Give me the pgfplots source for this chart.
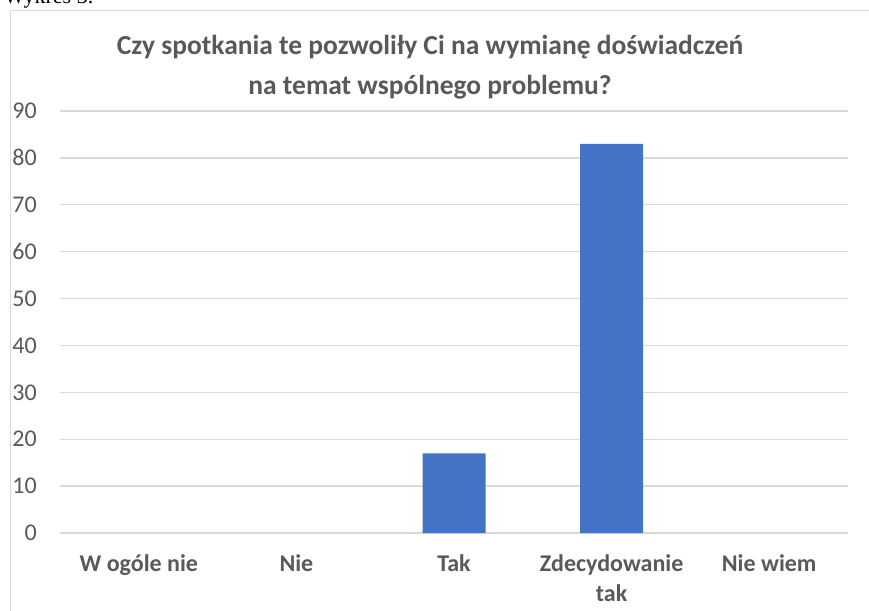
\documentclass[border=0pt]{standalone}
\usepackage{pgfplots}
\pgfplotsset{compat=1.18}
\usepackage{fontspec}
\setmainfont{Carlito}
\newfontfamily\serifw{Liberation Serif}
\definecolor{txt}{HTML}{595959}
\definecolor{gridc}{HTML}{D9D9D9}
\definecolor{barc}{HTML}{4472C4}
\begin{document}
\begin{tikzpicture}[x=1pt,y=1pt]
\useasboundingbox (0,0) rectangle (869,610);
\draw[gridc, line width=1.3pt] (10.5,-5) -- (10.5,599.5) -- (880,599.5);
\node[anchor=base west, inner sep=0pt, font=\serifw\fontsize{22}{26}\selectfont] at (4,606) {Wykres 3.};
\node[align=center, text=txt, inner sep=0pt, font=\bfseries\fontsize{27.5}{40}\selectfont] at (430,543) {Czy spotkania te pozwoliły Ci na wymianę doświadczeń\\na temat wspólnego problemu?};
\begin{axis}[
  at={(60pt,77pt)}, anchor=south west,
  scale only axis, width=788pt, height=422pt,
  xmin=-0.5, xmax=4.5, ymin=0, ymax=90,
  ytick={0,10,...,90},
  xtick={0,1,2,3,4},
  xticklabels={W ogóle nie, Nie, Tak, {Zdecydowanie\\tak}, Nie wiem},
  major tick length=0pt,
  axis line style={draw=none},
  ymajorgrids, grid style={gridc, line width=1.3pt},
  /pgf/number format/assume math mode=true,
  yticklabel style={text=txt, font=\fontsize{24}{29}\selectfont, anchor=east, inner sep=0pt, xshift=-23pt},
  xticklabel style={text=txt, font=\bfseries\fontsize{24}{30}\selectfont, anchor=north, align=center, inner sep=0pt, yshift=-21pt},
  unbounded coords=discard,
  clip=false,
]
\addplot[ybar, bar width=63pt, fill=barc, draw=none,
  y filter/.expression={y==0 ? nan : y}] coordinates {(0,0) (1,0) (2,17) (3,83) (4,0)};
\end{axis}
\end{tikzpicture}
\end{document}
